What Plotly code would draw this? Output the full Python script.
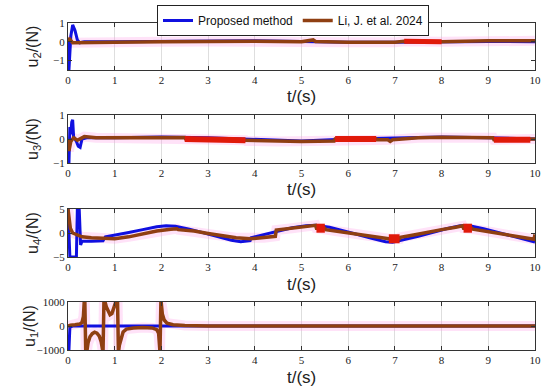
import plotly.graph_objects as go

# ---------------- data ----------------
# u2
u2_blue_t = [0, 0.02, 0.06, 0.1, 0.15, 0.2, 0.25, 0.35, 1, 2, 3, 4, 5, 6, 7, 8, 9, 10]
u2_blue_v = [0, -1.5, 0.3, 0.9, 0.6, 0.1, -0.05, 0, 0.0, 0.03, 0.05, 0.05, 0.02, -0.02, -0.02, 0.0, 0.02, 0.0]
u2_li_t = [0, 0.02, 0.1, 0.5, 1, 2, 3, 4, 5, 5.2, 5.25, 5.3, 6, 7, 7.2, 8, 9, 10]
u2_li_v = [0.0, 0.2, -0.05, -0.02, -0.02, 0.0, 0.02, 0.03, 0.0, 0.05, 0.1, 0.02, -0.02, -0.03, 0.03, 0.0, 0.05, 0.05]
u2_red_t = [7.2, 8.0]
u2_red_v = [0.03, 0.0]

# u3
u3_blue_t = [0, 0.02, 0.04, 0.06, 0.08, 0.1, 0.12, 0.18, 0.22, 0.26, 0.3, 0.4, 1, 2, 3, 4, 5, 6, 7, 8, 9, 10]
u3_blue_v = [0, -1, 0.5, 0.2, 0.7, 0.8, 0.1, -0.1, -0.3, -0.35, 0.0, 0.05, 0.05, 0.08, 0.05, 0.0, -0.08, 0.0, 0.05, 0.08, 0.05, 0.0]
u3_li_t = [0, 0.02, 0.06, 0.12, 0.2, 0.3, 0.35, 0.6, 1, 2, 2.5, 2.52, 3, 3.8, 3.82, 4.5, 5.0, 5.7, 5.72,
           6.6, 6.62, 6.85, 6.9, 6.95, 7.5, 8, 9.0, 9.1, 9.12, 9.9, 10]
u3_li_v = [0, -0.5, -0.1, 0.05, -0.05, 0.05, 0.1, 0.05, 0.05, 0.07, 0.06, 0.0, -0.02, -0.05, -0.08, -0.1, -0.1, -0.08, 0.0,
           0.0, -0.03, -0.03, -0.1, -0.03, 0.05, 0.07, 0.07, 0.05, -0.03, -0.03, 0.0]
u3_red_t = [[2.5, 3.8], [5.72, 6.6], [9.12, 9.9]]
u3_red_v = [[0.0, -0.05], [0.0, 0.0], [-0.03, -0.03]]

# u4
u4_blue_t = [0, 0.02, 0.04, 0.06, 0.18, 0.2, 0.24, 0.27, 0.3, 0.5, 0.75, 0.8, 1.0, 1.3, 1.6, 1.9, 2.1, 2.3, 2.6,
             2.9, 3.2, 3.5, 3.7, 3.9, 3.92, 4.2, 4.5, 4.8, 5.1, 5.3, 5.6, 5.9, 6.2, 6.5, 6.8, 6.95, 7.2, 7.5,
             7.8, 8.1, 8.4, 8.6, 8.9, 9.2, 9.5, 9.8, 10]
u4_blue_v = [5, 0, -5, -5, -5, 5, 5, -2.5, -1.7, -1.7, -1.6, -0.8, -0.5, 0.1, 0.7, 1.3, 1.5, 1.4, 0.8,
             0.0, -0.8, -1.5, -1.8, -1.6, -1.0, -0.3, 0.5, 1.1, 1.5, 1.6, 1.2, 0.5, -0.3, -1.1, -1.8, -1.9, -1.4, -0.7,
             0.1, 0.9, 1.5, 1.5, 0.9, 0.1, -0.7, -1.5, -1.9]
u4_li_t = [0, 0.05, 0.1, 0.3, 0.5, 1.0, 1.3, 1.6, 1.9, 2.2, 2.33, 2.36, 2.7, 3.0, 3.3, 3.6, 3.9, 4.2, 4.44, 4.46,
           4.8, 5.1, 5.3, 5.32, 5.5, 5.52, 5.8, 6.1, 6.4, 6.7, 6.85, 6.87, 7.1, 7.12, 7.4, 7.7, 8.0, 8.3, 8.45,
           8.47, 8.65, 8.67, 9.0, 9.3, 9.6, 9.9, 9.98, 10]
u4_li_v = [5, 1, 0, -0.8, -1.0, -1.2, -0.8, -0.2, 0.4, 0.8, 0.9, 0.7, 0.4, -0.1, -0.6, -1.0, -1.2, -1.0, -0.7, 0.6,
           1.0, 1.4, 1.6, 1.0, 1.0, 0.7, 0.3, -0.2, -0.6, -1.0, -1.1, -1.2, -1.2, -0.9, -0.4, 0.2, 0.7, 1.2, 1.5,
           1.0, 1.0, 0.8, 0.3, -0.2, -0.7, -1.2, -1.3, -0.3]
u4_red_t = [[5.32, 5.5], [6.87, 7.1], [8.47, 8.65]]
u4_red_v = [[1.0, 1.0], [-1.2, -1.2], [1.0, 1.0]]

# u1
u1_blue_t = [0, 0.02, 0.04, 0.1, 10]
u1_blue_v = [-1000, -1000, -50, 0, 0]
u1_li_t = [0, 0.05, 0.15, 0.25, 0.3, 0.33, 0.35, 0.36, 0.38, 0.4, 0.43, 0.47, 0.52, 0.57, 0.62, 0.67, 0.71, 0.74,
           0.75, 0.77, 0.78, 0.82, 0.86, 0.9, 0.94, 0.98, 1.02, 1.04, 1.06, 1.08, 1.1, 1.14, 1.18, 1.25, 1.4, 1.6,
           1.8, 1.9, 1.94, 1.97, 1.99, 2.02, 2.06, 2.12, 2.25, 2.5, 3, 10]
u1_li_v = [0, 30, 50, 80, 150, 400, 1100, 1100, -1100, -1100, -700, -450, -320, -260, -300, -420, -650, -1100,
           -1100, 1100, 1100, 800, 600, 470, 520, 700, 900, 1100, 1100, -1100, -800, -450, -250, -130, -80, -60,
           -80, -150, -300, -1100, 1100, 500, 250, 120, 50, 20, 0, 0]

x_ticks = [0, 1, 2, 3, 4, 5, 6, 7, 8, 9, 10]
x_title = "t/(s)"
panels = [
    dict(label="u<sub>2</sub>/(N)", rng=[-1.5, 1], ticks=[-1, 0, 1],
         bt=u2_blue_t, bv=u2_blue_v, lt=u2_li_t, lv=u2_li_v, rt=[u2_red_t], rv=[u2_red_v], rw=5),
    dict(label="u<sub>3</sub>/(N)", rng=[-1, 1], ticks=[-1, 0, 1],
         bt=u3_blue_t, bv=u3_blue_v, lt=u3_li_t, lv=u3_li_v, rt=u3_red_t, rv=u3_red_v, rw=6),
    dict(label="u<sub>4</sub>/(N)", rng=[-5, 5], ticks=[-5, 0, 5],
         bt=u4_blue_t, bv=u4_blue_v, lt=u4_li_t, lv=u4_li_v, rt=u4_red_t, rv=u4_red_v, rw=9),
    dict(label="u<sub>1</sub>/(N)", rng=[-1000, 1000], ticks=[-1000, 0, 1000],
         bt=u1_blue_t, bv=u1_blue_v, lt=u1_li_t, lv=u1_li_v, rt=[], rv=[], rw=5),
]

W, H = 550, 391
px_rows = [(23, 70), (115, 163), (209, 257), (302, 350)]
x_dom = [68 / W, 535 / W]

BLUE = "#1010e0"
BROWN = "#8f3f12"
RED = "#e01a0a"
PINK = "rgba(255,150,230,0.28)"

fig = go.Figure()
annotations = []
for i, p in enumerate(panels):
    n = i + 1
    xa = "x" if n == 1 else f"x{n}"
    ya = "y" if n == 1 else f"y{n}"
    fig.add_trace(go.Scatter(x=p["lt"], y=p["lv"], mode="lines", xaxis=xa, yaxis=ya,
                             line=dict(color=PINK, width=10), showlegend=False, hoverinfo="skip"))
    fig.add_trace(go.Scatter(x=p["bt"], y=p["bv"], mode="lines", xaxis=xa, yaxis=ya,
                             line=dict(color=BLUE, width=3), name="Proposed method",
                             showlegend=(n == 1)))
    fig.add_trace(go.Scatter(x=p["lt"], y=p["lv"], mode="lines", xaxis=xa, yaxis=ya,
                             line=dict(color=BROWN, width=3.5), name="Li, J. et al. 2024",
                             showlegend=(n == 1)))
    for rt, rv in zip(p["rt"], p["rv"]):
        fig.add_trace(go.Scatter(x=rt, y=rv, mode="lines", xaxis=xa, yaxis=ya,
                                 line=dict(color=RED, width=p["rw"]), showlegend=False, hoverinfo="skip"))

    top, bot = px_rows[i]
    axis_common = dict(showline=True, linecolor="#333333", linewidth=1, mirror="ticks",
                       ticks="inside", ticklen=4, tickcolor="#333333", zeroline=False,
                       automargin=False,
                       tickfont=dict(family="Liberation Serif", size=11, color="#222"))
    fig.layout[("xaxis" if n == 1 else f"xaxis{n}")] = dict(
        domain=x_dom, anchor=ya, range=[0, 10], tickvals=x_ticks, showgrid=True,
        gridcolor="#dedede", gridwidth=1, **axis_common)
    fig.layout[("yaxis" if n == 1 else f"yaxis{n}")] = dict(
        domain=[1 - bot / H, 1 - top / H], anchor=xa, range=p["rng"], tickvals=p["ticks"],
        showgrid=False, **axis_common)
    annotations.append(dict(text=x_title, xref="paper", yref="paper",
                            x=(x_dom[0] + x_dom[1]) / 2, y=1 - (bot + 27) / H,
                            xanchor="center", yanchor="middle", showarrow=False,
                            font=dict(family="Liberation Sans", size=17, color="#222")))
    annotations.append(dict(text=p["label"], xref="paper", yref="paper", textangle=-90,
                            x=(33 if n < 4 else 30) / W, y=1 - (top + bot) / 2 / H,
                            xanchor="center", yanchor="middle", showarrow=False,
                            font=dict(family="Liberation Sans", size=16, color="#222")))

fig.update_layout(
    width=W, height=H, margin=dict(l=0, r=0, t=0, b=0, autoexpand=False),
    paper_bgcolor="white", plot_bgcolor="white",
    annotations=annotations,
    legend=dict(orientation="h", x=157 / W, y=1 - 5 / H, xanchor="left", yanchor="top",
                bgcolor="white", bordercolor="#222", borderwidth=1,
                font=dict(family="Liberation Sans", size=12, color="#111"),
                itemwidth=30, tracegroupgap=0),
)

fig.write_html("out.html", config={"displayModeBar": False},
               post_script="document.body.style.margin='0';")
